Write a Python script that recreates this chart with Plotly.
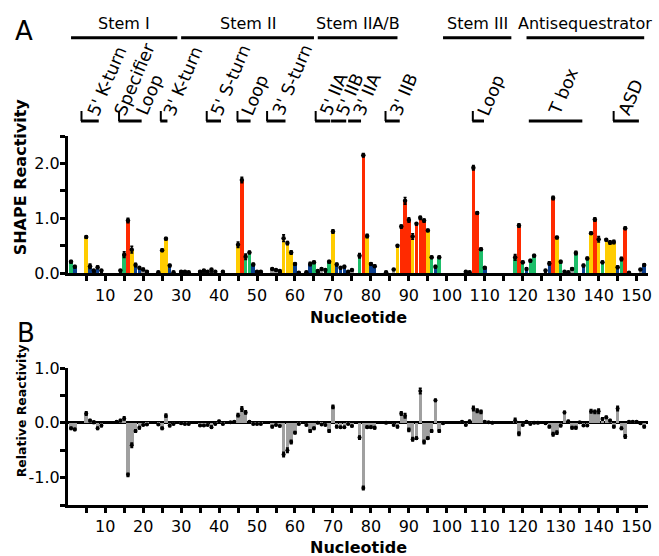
import plotly.graph_objects as go

# ---------------- data ----------------
NUC = list(range(1, 153))

# Panel A: SHAPE reactivity per nucleotide (None = no data)
A_VAL = [
    0.21, 0.12, None, None, 0.66, 0.13, 0.05, 0.11, 0.05, None,   # 1-10
    None, None, None, 0.05, 0.34, 0.96, 0.43, 0.15, 0.10, 0.07,   # 11-20
    0.03, None, None, 0.02, 0.42, 0.63, 0.14, 0.02, None, 0.03,   # 21-30
    0.03, 0.02, None, None, 0.03, 0.05, 0.03, 0.07, 0.03, None,   # 31-40
    0.03, None, None, None, 0.52, 1.70, 0.30, 0.38, 0.16, 0.03,   # 41-50
    0.03, None, None, 0.08, 0.06, 0.04, 0.64, 0.55, 0.38, 0.17,   # 51-60
    0.01, None, 0.02, 0.17, 0.20, 0.04, 0.08, 0.06, 0.21, 0.76,   # 61-70
    0.16, 0.10, 0.12, 0.03, 0.06, None, 0.32, 2.15, 0.68, 0.17,   # 71-80
    0.13, None, None, 0.02, None, 0.07, 0.50, 0.85, 1.32, 0.97,   # 81-90
    0.67, 0.90, 1.01, 0.96, 0.78, 0.29, 0.12, 0.29, None, None,   # 91-100
    None, None, None, None, 0.03, 0.02, 1.92, 1.10, 0.44, 0.10,   # 101-110
    None, None, None, None, None, None, None, 0.29, 0.87, 0.20,   # 111-120
    0.08, 0.23, 0.32, None, None, 0.05, 0.18, 1.37, 0.65, 0.21,   # 121-130
    0.03, 0.02, 0.08, 0.37, None, 0.14, 0.27, 0.73, 0.98, 0.62,   # 131-140
    0.20, 0.61, 0.56, 0.57, 0.11, 0.26, 0.82, 0.01, None, None,   # 141-150
    0.07, 0.15,                                                   # 151-152
]
A_ERR = [
    0.02, 0.02, None, None, 0.02, 0.04, 0.01, 0.02, 0.01, None,
    None, None, None, 0.01, 0.05, 0.04, 0.06, 0.03, 0.02, 0.02,
    0.01, None, None, 0.01, 0.02, 0.02, 0.02, 0.01, None, 0.01,
    0.01, 0.01, None, None, 0.01, 0.01, 0.01, 0.01, 0.01, None,
    0.01, None, None, None, 0.05, 0.05, 0.05, 0.02, 0.02, 0.01,
    0.01, None, None, 0.01, 0.01, 0.01, 0.06, 0.03, 0.03, 0.02,
    0.01, None, 0.01, 0.03, 0.02, 0.01, 0.01, 0.01, 0.02, 0.03,
    0.02, 0.02, 0.02, 0.01, 0.01, None, 0.04, 0.03, 0.03, 0.02,
    0.02, None, None, 0.01, None, 0.01, 0.02, 0.03, 0.06, 0.04,
    0.05, 0.02, 0.03, 0.03, 0.02, 0.02, 0.02, 0.02, None, None,
    None, None, None, None, 0.01, 0.01, 0.04, 0.02, 0.02, 0.02,
    None, None, None, None, None, None, None, 0.05, 0.03, 0.02,
    0.02, 0.02, 0.02, None, None, 0.01, 0.03, 0.03, 0.02, 0.02,
    0.01, 0.01, 0.02, 0.03, None, 0.02, 0.02, 0.02, 0.03, 0.05,
    0.02, 0.02, 0.03, 0.03, 0.02, 0.03, 0.02, 0.01, None, None,
    0.01, 0.02,
]
# reactivity class per nucleotide: R high, Y medium, G low-medium, B low, N gray, K very low, - none
A_CLS = (
    "G B - - Y B K B K - "
    "- - - K G R Y B B N "
    "K - - K Y Y B K - K "
    "K K - - K K K K K - "
    "K - - - Y R G G B K "
    "K - - N N K Y Y Y B "
    "K - K B G K N K G Y "
    "B B B K N - G R Y B "
    "B - - K - N Y R R R "
    "Y R R R Y G B G - - "
    "- - - - K K R R G B "
    "- - - - - - - G R G "
    "B G G - - K B R Y G "
    "K K N G - B G Y R Y "
    "G Y Y Y B G R K - - "
    "N B"
).split()

# Panel B: relative reactivity
B_VAL = [
    -0.10, -0.12, None, None, 0.17, 0.04, 0.01, -0.10, -0.05, None,
    None, None, 0.02, 0.04, 0.08, -0.95, -0.41, -0.15, -0.09, -0.04,
    -0.03, None, None, -0.03, -0.10, 0.13, -0.05, -0.02, None, -0.01,
    -0.02, -0.02, None, None, -0.05, -0.05, -0.04, -0.08, -0.02, 0.03,
    -0.02, None, 0.01, 0.02, 0.14, 0.25, 0.19, 0.02, -0.02, -0.02,
    -0.02, None, None, -0.07, -0.04, -0.06, -0.58, -0.50, -0.35, -0.18,
    -0.02, None, -0.04, -0.15, -0.10, 0.00, -0.03, -0.04, -0.15, 0.29,
    -0.07, -0.08, -0.08, -0.02, -0.06, None, -0.27, -1.19, -0.08, -0.08,
    -0.09, None, None, 0.00, None, -0.04, -0.07, 0.17, 0.13, -0.13,
    -0.30, -0.28, 0.58, -0.35, -0.28, -0.15, 0.41, -0.15, -0.01, None,
    None, None, None, 0.02, -0.04, 0.03, 0.26, 0.22, 0.20, 0.02,
    0.01, 0.00, None, None, None, None, None, 0.04, -0.20, -0.04,
    0.02, -0.02, 0.00, 0.00, None, -0.01, -0.07, -0.21, -0.18, -0.05,
    0.19, 0.03, -0.09, -0.09, 0.01, -0.05, -0.05, 0.21, 0.20, 0.21,
    0.07, 0.10, 0.04, -0.07, 0.26, -0.10, -0.25, 0.02, 0.02, 0.02,
    -0.01, -0.07,
]
B_ERR = [
    0.02, 0.02, None, None, 0.03, 0.02, 0.02, 0.02, 0.02, None,
    None, None, 0.01, 0.02, 0.03, 0.03, 0.04, 0.02, 0.02, 0.01,
    0.01, None, None, 0.01, 0.02, 0.03, 0.02, 0.01, None, 0.01,
    0.01, 0.01, None, None, 0.01, 0.01, 0.01, 0.02, 0.01, 0.01,
    0.01, None, 0.01, 0.01, 0.03, 0.04, 0.03, 0.01, 0.01, 0.01,
    0.01, None, None, 0.02, 0.01, 0.01, 0.04, 0.04, 0.03, 0.02,
    0.01, None, 0.01, 0.02, 0.02, 0.01, 0.01, 0.01, 0.02, 0.03,
    0.02, 0.01, 0.01, 0.01, 0.01, None, 0.03, 0.03, 0.02, 0.02,
    0.02, None, None, 0.01, None, 0.01, 0.02, 0.03, 0.04, 0.03,
    0.03, 0.02, 0.05, 0.03, 0.02, 0.02, 0.02, 0.02, 0.01, None,
    None, None, None, 0.01, 0.01, 0.01, 0.04, 0.03, 0.03, 0.01,
    0.01, 0.01, None, None, None, None, None, 0.04, 0.03, 0.01,
    0.01, 0.01, 0.01, 0.01, None, 0.01, 0.02, 0.03, 0.03, 0.02,
    0.02, 0.01, 0.02, 0.02, 0.01, 0.01, 0.01, 0.03, 0.03, 0.04,
    0.02, 0.02, 0.02, 0.02, 0.04, 0.02, 0.03, 0.01, 0.01, 0.01,
    0.01, 0.02,
]

X_TICKS = list(range(5, 151, 5))
X_LABELS = [str(v) if v % 10 == 0 else "" for v in X_TICKS]
YA_TICKS = [0, 0.5, 1.0, 1.5, 2.0, 2.5]
YA_LABELS = ["0.0", "", "1.0", "", "2.0", ""]
YB_TICKS = [-1.5, -1.0, -0.5, 0, 0.5, 1.0]
YB_LABELS = ["", "-1.0", "", "0.0", "", "1.0"]

REGIONS = [("Stem I", 1, 29), ("Stem II", 30, 65), ("Stem IIA/B", 66, 87),
           ("Stem III", 99, 117), ("Antisequestrator", 121, 152)]
# sub-region bars: line start, line end, left tick
SUB_LINES = [
    (3.6, 8.3, True), (13.5, 19.6, True), (24.5, 26.4, True), (36.6, 40.5, True),
    (44.7, 48.3, True), (52.5, 57.5, True), (65.3, 69.3, True), (69.5, 73.5, False),
    (74.0, 77.4, False), (83.7, 87.6, True), (106.7, 109.8, True), (121.6, 135.7, False),
    (143.8, 150.6, True),
]
# rotated sub-region labels: text, start nucleotide
SUB_LABELS = [
    ("5' K-turn", 3.6), ("Specifier", 10.7), ("Loop", 16.4), ("3' K-turn", 23.6),
    ("5' S-turn", 36.1), ("Loop", 44.2), ("3' S-turn", 52.3), ("5' IIA", 64.9),
    ("5' IIB", 69.2), ("3' IIA", 73.7), ("3' IIB", 83.4), ("Loop", 106.4),
    ("T box", 125.0), ("ASD", 143.6),
]

# ---------------- styling ----------------
W, H = 659, 556
ML, MR, MT, MB = 68, 7, 136, 51
PW, PH = W - ML - MR, H - MT - MB
FONT = "DejaVu Sans"
CLS_COLOR = {"R": "#FF2A00", "Y": "#FFCC00", "G": "#1DBE6A", "B": "#0B3F8F",
             "N": "#9E9E9E", "K": "#111111", "-": "#FFFFFF"}


def yp(py):
    return (H - MB - py) / PH


def xp(px):
    return (px - ML) / PW


fig = go.Figure()

fig.add_trace(go.Bar(x=NUC, y=A_VAL, width=0.92,
                     marker=dict(color=[CLS_COLOR[c] for c in A_CLS], line=dict(width=0)),
                     xaxis="x", yaxis="y", showlegend=False))
fig.add_trace(go.Scatter(x=NUC, y=A_VAL, mode="markers",
                         marker=dict(color="black", size=4.5),
                         error_y=dict(type="data", array=A_ERR, color="black", thickness=1.6, width=1.5),
                         xaxis="x", yaxis="y", showlegend=False))
fig.add_trace(go.Bar(x=NUC, y=B_VAL, width=0.92,
                     marker=dict(color="#A0A0A0", line=dict(width=0)),
                     xaxis="x2", yaxis="y2", showlegend=False))
fig.add_trace(go.Scatter(x=NUC, y=B_VAL, mode="markers",
                         marker=dict(color="black", size=4),
                         error_y=dict(type="data", array=B_ERR, color="black", thickness=1.6, width=1.5),
                         xaxis="x2", yaxis="y2", showlegend=False))

axis_common = dict(showline=True, linecolor="black", linewidth=3, ticks="outside",
                   ticklen=5, tickwidth=2.5, tickcolor="black", showgrid=False, zeroline=False,
                   tickfont=dict(family=FONT, size=16, color="black"))

XR = [0.2, 153]
fig.update_layout(
    width=W, height=H, margin=dict(l=ML, r=MR, t=MT, b=MB),
    paper_bgcolor="white", plot_bgcolor="white", bargap=0,
    xaxis=dict(axis_common, range=XR, domain=[0, 1], anchor="y",
               tickvals=X_TICKS, ticktext=X_LABELS),
    yaxis=dict(axis_common, range=[0, 2.5], domain=[yp(273.3), 1], anchor="x",
               tickvals=YA_TICKS, ticktext=YA_LABELS, ticklabelstandoff=-3),
    xaxis2=dict(axis_common, range=XR, domain=[0, 1], anchor="y2",
                tickvals=X_TICKS, ticktext=X_LABELS),
    yaxis2=dict(axis_common, range=[-1.5, 1.0], domain=[0, yp(368)], anchor="x2",
                tickvals=YB_TICKS, ticktext=YB_LABELS, ticklabelstandoff=-3,
                zeroline=True, zerolinecolor="black", zerolinewidth=3),
)

shapes = []
annotations = []
for name, s, e in REGIONS:
    shapes.append(dict(type="line", xref="x", yref="paper", x0=s, x1=e,
                       y0=yp(37.7), y1=yp(37.7), line=dict(color="black", width=3)))
    annotations.append(dict(text=name, xref="x", yref="paper", x=(s + e) / 2, y=yp(24),
                            xanchor="center", yanchor="middle", showarrow=False,
                            font=dict(family=FONT, size=16, color="black")))
for s, e, tick in SUB_LINES:
    shapes.append(dict(type="line", xref="x", yref="paper", x0=s, x1=e,
                       y0=yp(121), y1=yp(121), line=dict(color="black", width=3)))
    if tick:
        shapes.append(dict(type="line", xref="x", yref="paper", x0=s + 0.15, x1=s + 0.15,
                           y0=yp(121), y1=yp(111), line=dict(color="black", width=2)))
for name, lx in SUB_LABELS:
    annotations.append(dict(text=name, xref="x", yref="paper", x=lx, y=yp(121),
                            xanchor="left", yanchor="bottom", showarrow=False, textangle=-67,
                            font=dict(family=FONT, size=17.5, color="black")))

# axis titles and panel letters
annotations += [
    dict(text="<b>Nucleotide</b>", xref="paper", yref="paper", x=xp(360), y=yp(317),
         showarrow=False, xanchor="center", yanchor="middle", font=dict(family=FONT, size=16, color="black")),
    dict(text="<b>Nucleotide</b>", xref="paper", yref="paper", x=xp(360), y=yp(547),
         showarrow=False, xanchor="center", yanchor="middle", font=dict(family=FONT, size=16, color="black")),
    dict(text="<b>SHAPE Reactivity</b>", xref="paper", yref="paper", x=xp(20), y=yp(177),
         showarrow=False, xanchor="center", yanchor="middle", textangle=-90,
         font=dict(family=FONT, size=16, color="black")),
    dict(text="<b>Relative Reactivity</b>", xref="paper", yref="paper", x=xp(21), y=yp(411),
         showarrow=False, xanchor="center", yanchor="middle", textangle=-90,
         font=dict(family=FONT, size=12.5, color="black")),
    dict(text="A", xref="paper", yref="paper", x=xp(24), y=yp(31),
         showarrow=False, xanchor="center", yanchor="middle", font=dict(family=FONT, size=26, color="black")),
    dict(text="B", xref="paper", yref="paper", x=xp(26), y=yp(333),
         showarrow=False, xanchor="center", yanchor="middle", font=dict(family=FONT, size=26, color="black")),
]
fig.update_layout(shapes=shapes, annotations=annotations)

# remove the default 8px page margin so the figure sits at the window's top-left corner
fig.write_html("out.html", config={"displayModeBar": False},
               post_script="document.body.style.margin='0';")
